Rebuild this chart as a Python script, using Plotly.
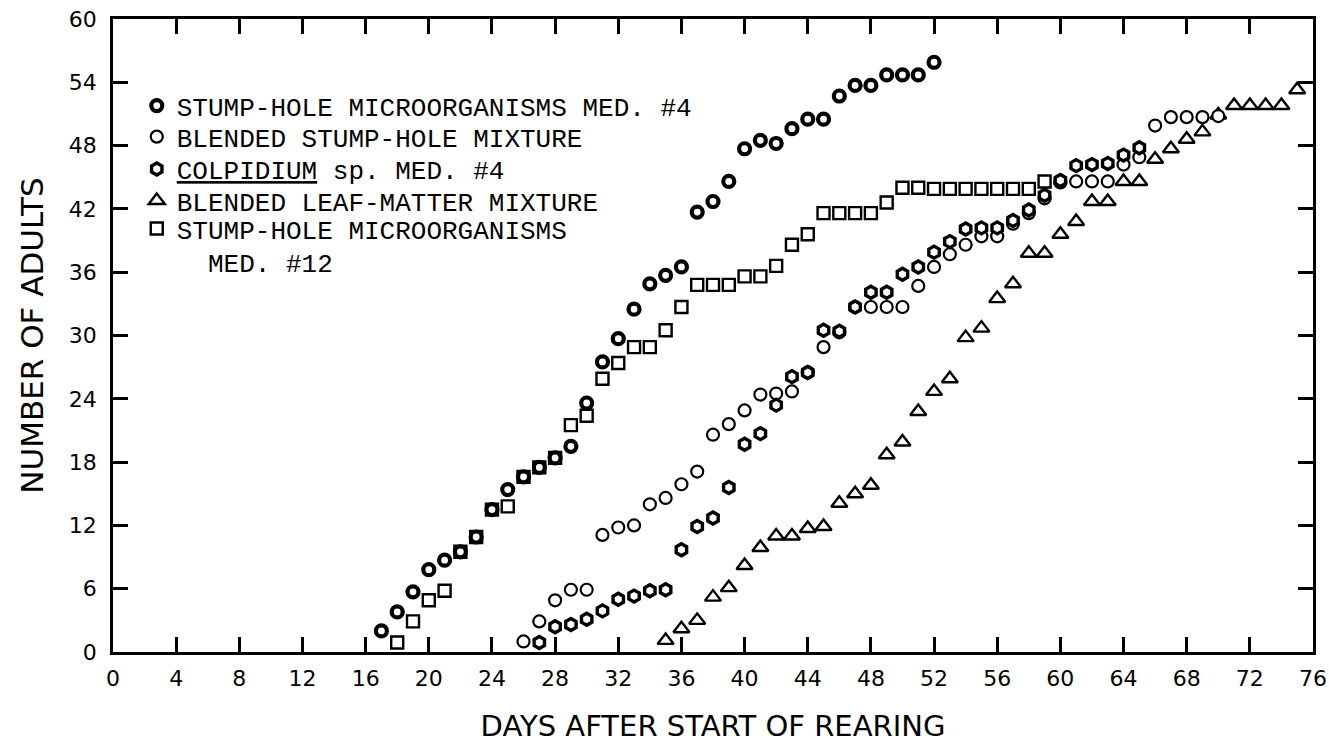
import plotly.graph_objects as go

# ---- data ----
days_a = [17, 18, 19, 20, 21, 22, 23, 24, 25, 26, 27, 28, 29, 30, 31, 32, 33, 34,
          35, 36, 37, 38, 39, 40, 41, 42, 43, 44, 45, 46, 47, 48, 49, 50, 51, 52]
adults_a = [2.0, 3.8, 5.7, 7.8, 8.7, 9.5, 10.9, 13.5, 15.4, 16.6, 17.5, 18.4, 19.5, 23.6,
            27.5, 29.7, 32.5, 34.9, 35.7, 36.5, 41.7, 42.7, 44.6, 47.7, 48.5, 48.2, 49.6,
            50.5, 50.5, 52.7, 53.7, 53.7, 54.7, 54.7, 54.7, 55.9]

days_b = [26, 27, 28, 29, 30, 31, 32, 33, 34, 35, 36, 37, 38, 39, 40, 41, 42, 43, 44,
          45, 46, 47, 48, 49, 50, 51, 52, 53, 54, 55, 56, 57, 58, 59, 60, 61, 62, 63,
          64, 65, 66, 67, 68, 69, 70]
adults_b = [1.0, 2.9, 4.9, 5.9, 5.9, 11.1, 11.8, 12.0, 14.0, 14.6, 15.9, 17.1, 20.6, 21.6,
            22.9, 24.4, 24.5, 24.7, 26.5, 28.9, 30.3, 32.7, 32.7, 32.7, 32.7, 34.7, 36.5,
            37.7, 38.6, 39.4, 39.4, 40.6, 41.6, 43.0, 44.5, 44.6, 44.6, 44.6, 46.2, 46.9,
            49.9, 50.7, 50.7, 50.7, 50.8]

days_c = [27, 28, 29, 30, 31, 32, 33, 34, 35, 36, 37, 38, 39, 40, 41, 42, 43, 44, 45,
          46, 47, 48, 49, 50, 51, 52, 53, 54, 55, 56, 57, 58, 59, 60, 61, 62, 63, 64, 65]
adults_c = [0.9, 2.4, 2.6, 3.1, 3.9, 5.0, 5.3, 5.8, 5.9, 9.7, 11.9, 12.7, 15.6, 19.7, 20.7,
            23.4, 26.1, 26.5, 30.5, 30.4, 32.7, 34.1, 34.1, 35.8, 36.5, 37.9, 38.9, 40.1,
            40.2, 40.2, 40.9, 41.9, 43.3, 44.7, 46.1, 46.2, 46.3, 47.1, 47.8]

days_d = [35, 36, 37, 38, 39, 40, 41, 42, 43, 44, 45, 46, 47, 48, 49, 50, 51, 52, 53, 54,
          55, 56, 57, 58, 59, 60, 61, 62, 63, 64, 65, 66, 67, 68, 69, 70, 71, 72, 73, 74, 75]
adults_d = [1.1, 2.2, 3.0, 5.2, 6.1, 8.2, 9.9, 11.0, 11.0, 11.7, 11.9, 14.1, 15.0, 15.8,
            18.7, 19.9, 22.8, 24.7, 25.9, 29.8, 30.7, 33.5, 34.9, 37.8, 37.8, 39.6, 40.8,
            42.7, 42.7, 44.6, 44.6, 46.7, 47.7, 48.6, 49.3, 50.9, 51.8, 51.8, 51.8, 51.8, 53.3]

days_e = [18, 19, 20, 21, 22, 23, 24, 25, 26, 27, 28, 29, 30, 31, 32, 33, 34, 35, 36, 37,
          38, 39, 40, 41, 42, 43, 44, 45, 46, 47, 48, 49, 50, 51, 52, 53, 54, 55, 56, 57, 58, 59]
adults_e = [0.9, 2.9, 4.9, 5.8, 9.5, 10.9, 13.5, 13.8, 16.6, 17.5, 18.4, 21.5, 22.4, 25.9,
            27.4, 28.9, 28.9, 30.5, 32.7, 34.8, 34.8, 34.8, 35.6, 35.6, 36.6, 38.6, 39.6,
            41.6, 41.6, 41.6, 41.6, 42.6, 44.0, 44.0, 43.9, 43.9, 43.9, 43.9, 43.9, 43.9,
            43.9, 44.6]

names = [
    "STUMP-HOLE MICROORGANISMS MED. #4",
    "BLENDED STUMP-HOLE MIXTURE",
    "<u>COLPIDIUM</u> sp. MED. #4",
    "BLENDED LEAF-MATTER MIXTURE",
    "STUMP-HOLE MICROORGANISMS<br>\u00a0\u00a0MED. #12",
]

x_ticks = [0, 4, 8, 12, 16, 20, 24, 28, 32, 36, 40, 44, 48, 52, 56, 60, 64, 68, 72, 76]
y_ticks = [0, 6, 12, 18, 24, 30, 36, 42, 48, 54, 60]

# ---- figure ----
fig = go.Figure()

series = [
    (days_a, adults_a, names[0], dict(symbol="circle", size=11, color="white",
                                      line=dict(color="black", width=4.2)), "legend"),
    (days_b, adults_b, names[1], dict(symbol="circle", size=12, color="white",
                                      line=dict(color="black", width=2.2)), "legend2"),
    (days_c, adults_c, names[2], dict(symbol="hexagon", size=12, color="white",
                                      line=dict(color="black", width=3.4)), "legend3"),
    (days_d, adults_d, names[3], dict(symbol="triangle-up", size=14, color="white",
                                      line=dict(color="black", width=2.4)), "legend4"),
    (days_e, adults_e, names[4], dict(symbol="square", size=12, color="white",
                                      line=dict(color="black", width=2.4)), "legend5"),
]
# draw order: squares and triangles first, filled-looking markers last
for idx in [4, 3, 1, 2, 0]:
    xs, ys, nm, mk, lg = series[idx]
    fig.add_trace(go.Scatter(x=xs, y=ys, mode="markers", name=nm, marker=mk,
                             legend=lg, showlegend=True, cliponaxis=False))

axis_common = dict(
    showgrid=False, zeroline=False, showline=True, mirror="ticks",
    linecolor="black", linewidth=2.5, ticks="inside", ticklen=15,
    tickwidth=2.5, tickcolor="black", automargin=False,
    tickfont=dict(family="DejaVu Sans", size=22, color="black"),
)

fig.update_layout(
    width=1329, height=743,
    showlegend=True,
    margin=dict(l=113, r=16, t=19, b=91, autoexpand=False),
    paper_bgcolor="white", plot_bgcolor="white",
    xaxis=dict(range=[0, 76], tickvals=x_ticks, ticklabelstandoff=5,
               title=dict(text="DAYS AFTER START OF REARING", standoff=39,
                          font=dict(family="DejaVu Sans", size=29, color="black")),
               **axis_common),
    yaxis=dict(range=[0, 60], tickvals=y_ticks, ticklabelstandoff=9,
               title=dict(text="NUMBER OF ADULTS", standoff=16,
                          font=dict(family="DejaVu Sans", size=31, color="black")),
               **axis_common),
)

leg_font = dict(family="Liberation Mono", size=26, color="black")
leg_x = 0.0198
leg_y = [0.863, 0.814, 0.763, 0.713, 0.642]
for i, key in enumerate(["legend", "legend2", "legend3", "legend4", "legend5"]):
    fig.update_layout(**{key: dict(x=leg_x, y=leg_y[i], xanchor="left", yanchor="middle",
                                   bgcolor="rgba(0,0,0,0)", font=leg_font,
                                   borderwidth=0, valign="top", visible=True)})

fig.write_html("out.html")
